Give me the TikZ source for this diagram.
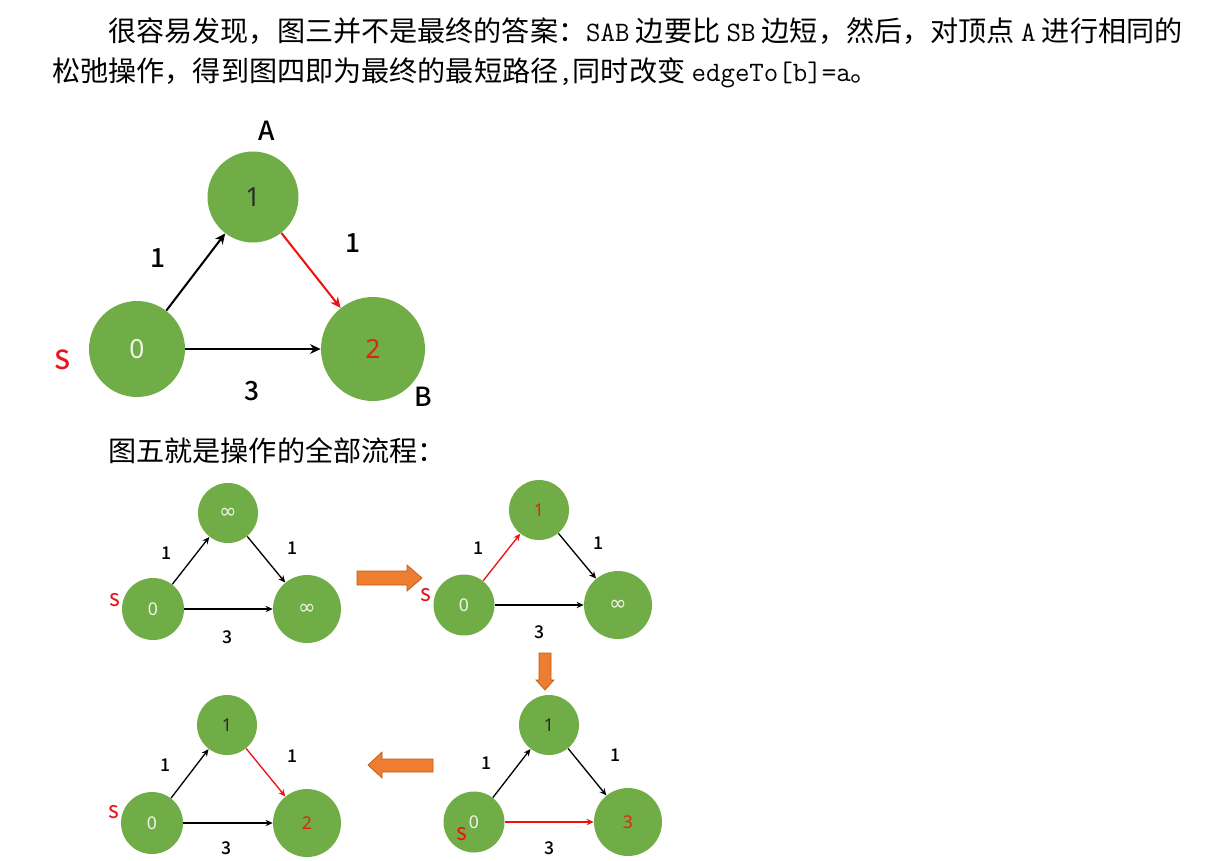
\documentclass[tikz,border=0pt]{standalone}
\usepackage{fontspec}
\setmainfont{Noto Sans CJK SC}
\newfontfamily\lblfont{Noto Sans CJK SC}[UprightFont = * Medium]
\newfontfamily\numfont{Noto Sans}
\newfontfamily\symfont{DejaVu Sans}
\usetikzlibrary{arrows.meta}
\definecolor{vgreen}{HTML}{70AD47}
\definecolor{redge}{HTML}{F01010}
\definecolor{rnum}{HTML}{D42A14}
\definecolor{rlabel}{HTML}{E8141E}
\definecolor{numdark}{HTML}{2A2A2A}
\definecolor{numlight}{HTML}{EEF6E8}
\definecolor{blkfill}{HTML}{ED7D31}
\definecolor{blkline}{HTML}{C55A11}

\begin{document}
\begin{tikzpicture}[x = 0.02cm, y = -0.02cm,
                    txt/.style = {anchor = west, inner sep = 0pt, font = \fontsize{16}{18}\selectfont},
                    vtx/.style = {circle, fill = vgreen, inner sep = 0pt},
                    bignum/.style = {font = \numfont\fontsize{15}{16}\selectfont},
                    smallnum/.style = {font = \numfont\fontsize{10}{11}\selectfont},
                    inf/.style = {font = \symfont\fontsize{12}{12}\selectfont},
                    biglbl/.style = {inner sep = 0pt, font = \lblfont\fontsize{15}{16}\selectfont},
                    smalllbl/.style = {inner sep = 0pt, font = \lblfont\fontsize{10}{11}\selectfont},
                    bigedge/.style = {line width = 1.15pt, -{Stealth[length = 6pt, width = 5.5pt]}},
                    smalledge/.style = {line width = 0.75pt, -{Stealth[length = 4pt, width = 3.6pt]}},
                    blk/.style = {fill = blkfill, draw = blkline, line width = 0.4pt}]
    \fill[white] (0, 0) rectangle (1223, 860);
    \useasboundingbox (0, 0) rectangle (1223, 860);

    % text
    \node [txt] (p1) at (108, 31) {很容易发现，图三并不是最终的答案：{\ttfamily SAB} 边要比 {\ttfamily SB} 边短，然后，对顶点 {\ttfamily A} 进行相同的};
    \node [txt] (p2) at (52, 73) {松弛操作，得到图四即为最终的最短路径{\ttfamily ,}同时改变 {\ttfamily edgeTo[b]=a}。};
    \node [txt] (p3) at (108, 451) {图五就是操作的全部流程：};

    % big graph
    \node [vtx, minimum size = 1.92cm, bignum, text = numlight] (s) at (137, 349) {0};
    \node [vtx, minimum size = 1.82cm, bignum, text = numdark] (a) at (253, 197) {1};
    \node [vtx, minimum size = 2.08cm, bignum, text = rnum] (b) at (373, 349) {2};
    \node [biglbl, text = rlabel] (ls) at (63, 360) {S};
    \node [biglbl] (la) at (267, 131) {A};
    \node [biglbl] (lb) at (423, 397) {B};
    \node [biglbl] (lsa) at (158, 258) {1};
    \node [biglbl] (lab) at (353, 243) {1};
    \node [biglbl] (lsb) at (252, 391) {3};

    \draw [bigedge] (s) -- (a);
    \draw [bigedge, redge] (a) -- (b);
    \draw [bigedge] (s) -- (b);

    % step 1
    \begin{scope}[shift = {(153, 609)}]
    \node [vtx, minimum size = 1.24cm, smallnum, text = numlight] (s1) at (0, 0) {0};
    \node [vtx, minimum size = 1.2cm, inf, text = numlight] (a1) at (75, -96) {∞};
    \node [vtx, minimum size = 1.36cm, inf, text = numlight] (b1) at (154, 0) {∞};
    \node [smalllbl, text = rlabel] (ls1) at (-38, -9) {S};
    \node [smalllbl] (lsa1) at (14, -56) {1};
    \node [smalllbl] (lab1) at (140, -61) {1};
    \node [smalllbl] (lsb1) at (75, 28) {3};
    \draw [smalledge] (s1) -- (a1);
    \draw [smalledge] (a1) -- (b1);
    \draw [smalledge] (s1) -- (b1);
    \end{scope}

    % step 2
    \begin{scope}[shift = {(464, 605)}]
    \node [vtx, minimum size = 1.22cm, smallnum, text = numlight] (s2) at (0, 0) {0};
    \node [vtx, minimum size = 1.2cm, smallnum, text = rnum] (a2) at (75, -95) {1};
    \node [vtx, minimum size = 1.36cm, inf, text = numlight] (b2) at (154, 0) {∞};
    \node [smalllbl, text = rlabel] (ls2) at (-38, -10) {S};
    \node [smalllbl] (lsa2) at (14, -57) {1};
    \node [smalllbl] (lab2) at (134, -62) {1};
    \node [smalllbl] (lsb2) at (75, 27) {3};
    \draw [smalledge, redge] (s2) -- (a2);
    \draw [smalledge] (a2) -- (b2);
    \draw [smalledge] (s2) -- (b2);
    \end{scope}

    % step 3
    \begin{scope}[shift = {(474, 822)}]
    \node [vtx, minimum size = 1.22cm, smallnum, text = numlight] (s3) at (0, 0) {0};
    \node [vtx, minimum size = 1.2cm, smallnum, text = numdark] (a3) at (75, -97) {1};
    \node [vtx, minimum size = 1.36cm, smallnum, text = rnum] (b3) at (154, 0) {3};
    \node [smalllbl, text = rlabel] (ls3) at (-12, 12) {S};
    \node [smalllbl] (lsa3) at (13, -59) {1};
    \node [smalllbl] (lab3) at (141, -67) {1};
    \node [smalllbl] (lsb3) at (75, 26) {3};
    \draw [smalledge] (s3) -- (a3);
    \draw [smalledge] (a3) -- (b3);
    \draw [smalledge, redge] (s3) -- (b3);
    \end{scope}

    % step 4
    \begin{scope}[shift = {(152, 823)}]
    \node [vtx, minimum size = 1.24cm, smallnum, text = numlight] (s4) at (0, 0) {0};
    \node [vtx, minimum size = 1.2cm, smallnum, text = numdark] (a4) at (75, -98) {1};
    \node [vtx, minimum size = 1.36cm, smallnum, text = rnum] (b4) at (155, 0) {2};
    \node [smalllbl, text = rlabel] (ls4) at (-38, -11) {S};
    \node [smalllbl] (lsa4) at (14, -58) {1};
    \node [smalllbl] (lab4) at (141, -67) {1};
    \node [smalllbl] (lsb4) at (75, 25) {3};
    \draw [smalledge] (s4) -- (a4);
    \draw [smalledge, redge] (a4) -- (b4);
    \draw [smalledge] (s4) -- (b4);
    \end{scope}

    % block arrows between the steps
    \draw [blk] (357, 571) -- (407, 571) -- (407, 565) -- (422, 578) -- (407, 591) -- (407, 585) -- (357, 585) -- cycle;
    \draw [blk] (539, 653) -- (551, 653) -- (551, 680) -- (554, 680) -- (545, 690) -- (536, 680) -- (539, 680) -- cycle;
    \draw [blk] (433, 759) -- (382, 759) -- (382, 752) -- (368, 765) -- (382, 778) -- (382, 772) -- (433, 772) -- cycle;
\end{tikzpicture}
\end{document}
